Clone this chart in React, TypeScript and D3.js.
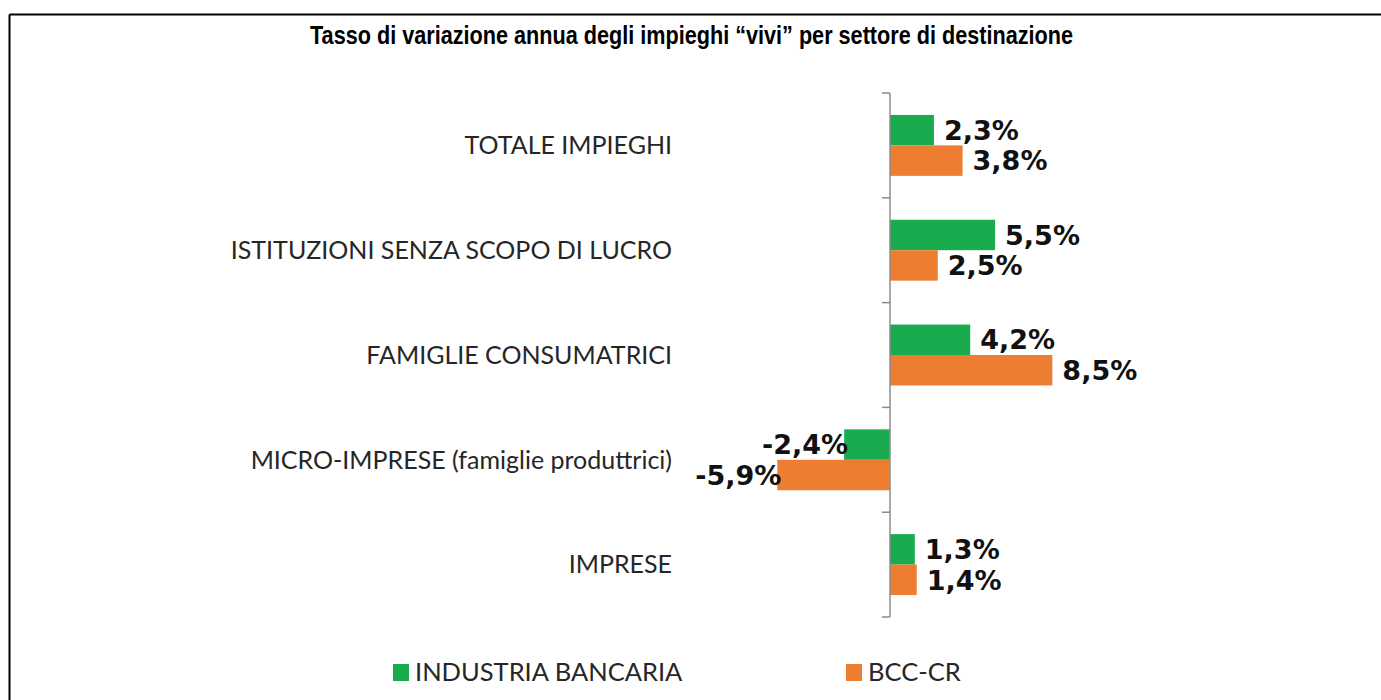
import React, { useEffect } from 'react';
import * as d3 from 'd3';

const categories = [
  'TOTALE IMPIEGHI',
  'ISTITUZIONI SENZA SCOPO DI LUCRO',
  'FAMIGLIE CONSUMATRICI',
  'MICRO-IMPRESE (famiglie produttrici)',
  'IMPRESE',
];
const seriesNames = ['INDUSTRIA BANCARIA', 'BCC-CR'];
const industriaBancaria = [2.3, 5.5, 4.2, -2.4, 1.3];
const bccCr = [3.8, 2.5, 8.5, -5.9, 1.4];
const seriesColors = ['#1aab4e', '#ed7d31'];
const title = 'Tasso di variazione annua degli impieghi \u201cvivi\u201d per settore di destinazione';

const width = 1381;
const height = 700;
const margin = { top: 93, bottom: 83 };
const zeroX = 890;
const pxPerUnit = 19.1;

const labelFont = 'Lato, "Open Sans", sans-serif';
const valueFont = '"DejaVu Sans", Verdana, sans-serif';

// Italian style: comma decimal, plain hyphen for negatives
const fmt = (v: number) => v.toFixed(1).replace('.', ',') + '%';

export default function App() {
  useEffect(() => {
    document.body.style.margin = '0';
    document.body.style.overflow = 'hidden';
  }, []);

  const x = d3.scaleLinear()
    .domain([-8, 10])
    .range([zeroX - 8 * pxPerUnit, zeroX + 10 * pxPerUnit]);

  const y = d3.scaleBand<string>()
    .domain(categories)
    .range([margin.top, height - margin.bottom])
    .padding(0);

  const inner = d3.scaleBand<string>()
    .domain(seriesNames)
    .range([0, y.bandwidth()])
    .paddingInner(0)
    .paddingOuter(0.72);

  const series = [industriaBancaria, bccCr];
  const tickYs = [...categories.map(c => y(c) as number), height - margin.bottom];

  return (
    <svg width={width} height={height} style={{ position: 'absolute', left: 0, top: 0, display: 'block' }}>
      <rect x={0} y={0} width={width} height={height} fill="#fff" />
      {/* frame */}
      <line x1={9.5} x2={width} y1={14.5} y2={14.5} stroke="#000" strokeWidth={2} />
      <line x1={9.5} x2={9.5} y1={14.5} y2={height} stroke="#000" strokeWidth={2} />

      <text x={691.5} y={44} textAnchor="middle" fontFamily='"Liberation Sans", Arial, sans-serif'
        fontWeight="bold" fontSize={26} textLength={763} lengthAdjust="spacingAndGlyphs" fill="#000">
        {title}
      </text>

      {/* bars */}
      {series.map((vals, si) =>
        vals.map((v, i) => {
          const by = (y(categories[i]) as number) + (inner(seriesNames[si]) as number);
          const x0 = x(Math.min(0, v));
          const w = Math.abs(x(v) - x(0));
          return (
            <rect key={`b${si}-${i}`} x={x0} y={by} width={w} height={inner.bandwidth()}
              fill={seriesColors[si]} />
          );
        })
      )}

      {/* axis */}
      <line x1={zeroX} x2={zeroX} y1={tickYs[0]} y2={tickYs[tickYs.length - 1]} stroke="#8c8c8c" strokeWidth={1.5} />
      {tickYs.map((ty, i) => (
        <line key={`t${i}`} x1={zeroX - 8} x2={zeroX} y1={ty} y2={ty} stroke="#8c8c8c" strokeWidth={1.5} />
      ))}

      {/* category labels */}
      {categories.map(c => (
        <text key={c} x={672} y={(y(c) as number) + y.bandwidth() / 2} dy="0.35em" textAnchor="end"
          fontFamily={labelFont} fontSize={25} fill="#262626">
          {c}
        </text>
      ))}

      {/* value labels */}
      {series.map((vals, si) =>
        vals.map((v, i) => {
          const cy = (y(categories[i]) as number) + (inner(seriesNames[si]) as number) + inner.bandwidth() / 2;
          return (
            <text key={`v${si}-${i}`} x={v >= 0 ? x(v) + 10 : x(v) + 4} y={cy} dy="0.36em"
              textAnchor={v >= 0 ? 'start' : 'end'} fontFamily={valueFont} fontWeight="bold"
              fontSize={27} fill="#111">
              {fmt(v)}
            </text>
          );
        })
      )}

      {/* legend */}
      {seriesNames.map((s, si) => {
        const lx = [393, 846][si];
        return (
          <g key={s} transform={`translate(${lx},664)`}>
            <rect x={0} y={0} width={16} height={17} fill={seriesColors[si]} />
            <text x={22} y={8.5} dy="0.35em" fontFamily={labelFont} fontSize={25.5} fill="#262626">{s}</text>
          </g>
        );
      })}
    </svg>
  );
}
